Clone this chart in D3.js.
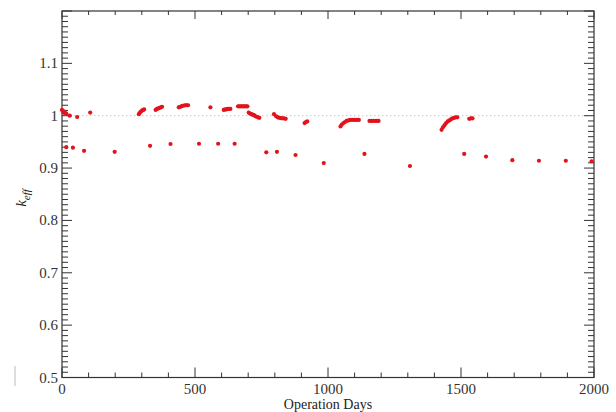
<!DOCTYPE html>
<html><head><meta charset="utf-8">
<script src="https://cdn.jsdelivr.net/npm/d3@7"></script>
<style>body{margin:0;background:#fff}svg{display:block}</style>
</head><body>
<svg id="c" width="616" height="412"></svg>
<script>
// Upper series (k_eff near 1.0): [day, value]
const upperDays = [0,3,6,9,12,16,29,57,106,
  289,293,297,301,305,309,
  352,357,362,367,372,376,
  439,444,449,454,459,464,469,474,
  558,
  608,613,618,623,628,633,
  662,667,672,677,682,687,692,697,
  702,707,712,717,722,727,732,737,742,
  797,
  805,811,817,823,829,835,841,
  912,917,922,
  1047,1052,1058,1064,1070,1077,1084,1092,1100,1108,1116,
  1156,1163,1170,1177,1184,1190,
  1427,1432,1438,1444,1450,1456,1462,1468,1474,1480,1486,
  1531,1537,1543];
const upperValues = [1.011,1.009,1.006,1.008,1.005,1.004,1.000,0.9975,1.006,
  1.003,1.006,1.008,1.010,1.011,1.012,
  1.011,1.013,1.014,1.015,1.016,1.017,
  1.016,1.017,1.018,1.019,1.0195,1.020,1.020,1.020,
  1.016,
  1.011,1.012,1.012,1.013,1.013,1.013,
  1.018,1.018,1.018,1.018,1.018,1.018,1.018,1.018,
  1.006,1.004,1.003,1.002,1.001,0.999,0.998,0.997,0.996,
  1.003,
  0.999,0.997,0.996,0.9955,0.995,0.995,0.994,
  0.986,0.988,0.989,
  0.9795,0.983,0.986,0.988,0.990,0.991,0.992,0.992,0.992,0.992,0.992,
  0.990,0.990,0.990,0.990,0.990,0.990,
  0.973,0.978,0.982,0.986,0.989,0.991,0.993,0.995,0.996,0.997,0.997,
  0.994,0.995,0.995];
// Lower series
const lowerDays = [16,41,83,198,331,408,515,587,649,768,808,878,984,1137,1308,1512,1594,1693,1793,1894,1991];
const lowerValues = [0.940,0.939,0.933,0.931,0.9425,0.946,0.9465,0.9465,0.9465,0.930,0.931,0.925,0.9096,0.927,0.904,0.927,0.922,0.915,0.914,0.914,0.913];

const xMajorTicks = [0,500,1000,1500,2000];
const yMajorTicks = [0.5,0.6,0.7,0.8,0.9,1.0,1.1];
const xDomain = [0,2000], yDomain = [0.5,1.2];
const xTitle = "Operation Days";

const svg = d3.select("#c");
const L=62, R=594, T=11, B=377.5;
const x = d3.scaleLinear().domain(xDomain).range([L,R]);
const y = d3.scaleLinear().domain(yDomain).range([B,T]);
const font = "'Liberation Serif','Times New Roman',serif";

// reference dotted line at 1.0
svg.append("line").attr("x1",L).attr("x2",R).attr("y1",y(1)).attr("y2",y(1))
  .attr("stroke","#c8c8c8").attr("stroke-width",1).attr("stroke-dasharray","1.5,2.5");

// frame
svg.append("rect").attr("x",L).attr("y",T).attr("width",R-L).attr("height",B-T)
  .attr("fill","none").attr("stroke","#333").attr("stroke-width",1.2);

const tk = svg.append("g").attr("stroke","#333").attr("stroke-width",1);
const xMinor = d3.range(0,2001,100);
xMinor.forEach(d=>{
  const maj = d%500===0;
  const len = maj?10:5;
  tk.append("line").attr("x1",x(d)).attr("x2",x(d)).attr("y1",B).attr("y2",B-len);
  tk.append("line").attr("x1",x(d)).attr("x2",x(d)).attr("y1",T).attr("y2",T+(maj?8:4));
});
const yMinor = d3.range(50,121,1).map(v=>v/100);
yMinor.forEach((d,i)=>{
  const maj = (i%10)===0;
  const len = maj?10:6;
  tk.append("line").attr("y1",y(d)).attr("y2",y(d)).attr("x1",L).attr("x2",L+len);
  tk.append("line").attr("y1",y(d)).attr("y2",y(d)).attr("x1",R).attr("x2",R-len);
});

// tick labels
svg.append("g").selectAll("text").data(xMajorTicks).join("text")
  .attr("x",d=>x(d)).attr("y",B+16).attr("text-anchor","middle")
  .attr("font-family",font).attr("font-size",15).attr("fill","#333").text(d=>d);
svg.append("g").selectAll("text").data(yMajorTicks).join("text")
  .attr("x",L-4).attr("y",d=>y(d)+5).attr("text-anchor","end")
  .attr("font-family",font).attr("font-size",15).attr("fill","#333")
  .text(d=>d===1?"1":d3.format(".1f")(d));

// axis titles
svg.append("text").attr("x",(L+R)/2).attr("y",409).attr("text-anchor","middle")
  .attr("font-family",font).attr("font-size",14).attr("fill","#222").text(xTitle);
const yl = svg.append("text").attr("transform","translate(26,198) rotate(-90)")
  .attr("text-anchor","middle").attr("font-family",font).attr("font-size",15).attr("fill","#222");
yl.append("tspan").attr("font-style","italic").text("k");
yl.append("tspan").attr("font-style","italic").attr("font-size",11).attr("dy",4).text("eff");

// small artifact mark at lower left
svg.append("line").attr("x1",15).attr("x2",15).attr("y1",366).attr("y2",386).attr("stroke","#bbb");

// points
const upper = upperDays.map((d,i)=>[d,upperValues[i]]);
const lower = lowerDays.map((d,i)=>[d,lowerValues[i]]);
svg.append("g").selectAll("circle").data(upper.concat(lower)).join("circle")
  .attr("cx",d=>x(d[0])).attr("cy",d=>y(d[1])).attr("r",2.1).attr("fill","#e3131b");
</script>
</body></html>
